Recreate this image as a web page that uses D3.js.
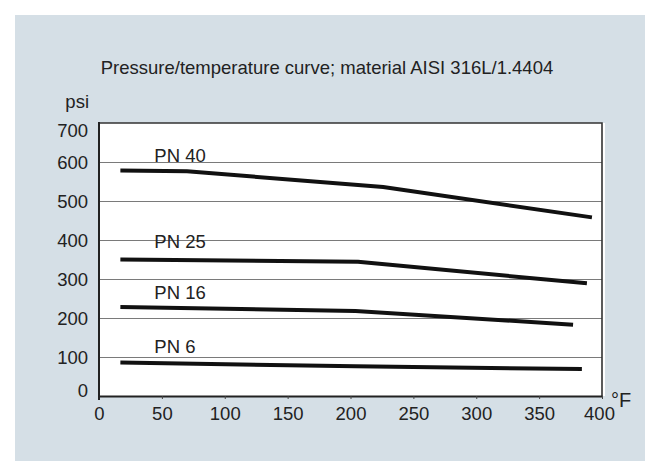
<!DOCTYPE html>
<html lang="en">
<head>
<meta charset="utf-8">
<title>Pressure/temperature curve</title>
<script src="https://cdn.jsdelivr.net/npm/d3@7"></script>
<style>
  body { margin: 0; background: #ffffff; }
  svg { display: block; font-family: "Liberation Sans", Arial, sans-serif; }
  .tick text { font-size: 18.5px; fill: #222; }
</style>
</head>
<body>
<svg id="chart" width="645" height="461"></svg>
<script>
// values (temperature in °F, pressure in psi)
var xTicks = [0, 50, 100, 150, 200, 250, 300, 350, 400];
var yTicks = [0, 100, 200, 300, 400, 500, 600, 700];

var seriesNames = ["PN 40", "PN 25", "PN 16", "PN 6"];
var pn40T = [17, 70, 226, 392];
var pn40P = [578, 576, 536, 458];
var pn25T = [17, 206, 388];
var pn25P = [350, 344, 289];
var pn16T = [17, 204, 377];
var pn16P = [228, 218, 183];
var pn6T = [17, 204, 384];
var pn6P = [86, 76, 69];
// where the "PN .." labels sit (°F, psi of baseline)
var labelT = [44, 44, 44, 44];
var labelP = [601, 379, 249, 110];

var temps = [pn40T, pn25T, pn16T, pn6T];
var press = [pn40P, pn25P, pn16P, pn6P];

var fs = 18.5;
var svg = d3.select("#chart");

// grey-blue panel
svg.append("rect")
  .attr("x", 15).attr("y", 15)
  .attr("width", 630).attr("height", 446)
  .attr("fill", "#d5dfe6");

var x = d3.scaleLinear().domain([0, 400]).range([99, 602]);
var y = d3.scaleLinear().domain([0, 700]).range([396, 123]);

svg.append("rect")
  .attr("x", x(0)).attr("y", y(700))
  .attr("width", x(400) - x(0) + 3).attr("height", y(0) - y(700))
  .attr("fill", "#ffffff");

// grid lines
svg.append("g").selectAll("line")
  .data(yTicks.filter(function(d){ return d > 0 && d < 700; }))
  .enter().append("line")
  .attr("x1", x(0)).attr("x2", x(400))
  .attr("y1", function(d){ return y(d) + 0.5; })
  .attr("y2", function(d){ return y(d) + 0.5; })
  .attr("stroke", "#7a7a7a").attr("stroke-width", 1);

// top and right frame
svg.append("path")
  .attr("d", "M" + x(0) + "," + y(700) + "H" + x(400) + "V" + y(0))
  .attr("fill", "none").attr("stroke", "#333").attr("stroke-width", 1.6);

// x axis
var xAxis = svg.append("g")
  .attr("transform", "translate(0," + y(0) + ")")
  .call(d3.axisBottom(x).tickValues(xTicks).tickSize(3).tickPadding(8).tickSizeOuter(0));
xAxis.select(".domain").attr("stroke", "#222").attr("stroke-width", 2);
xAxis.selectAll(".tick line").attr("stroke", "#444");
xAxis.selectAll(".tick text").filter(function(d){ return d == 400; }).attr("dx", -3);

// y axis
var yAxis = svg.append("g")
  .attr("transform", "translate(" + x(0) + ",0)")
  .call(d3.axisLeft(y).tickValues(yTicks).tickSize(0).tickPadding(11));
yAxis.select(".domain").remove();
yAxis.selectAll(".tick text")
  .attr("dy", function(d){
    if (d == 700) return "0.72em";
    if (d == 0) return "0.05em";
    return "0.34em"; });
svg.append("line")
  .attr("x1", x(0)).attr("x2", x(0))
  .attr("y1", y(700) - 1).attr("y2", y(0) + 4)
  .attr("stroke", "#222").attr("stroke-width", 2);

// curves
var line = d3.line()
  .x(function(d){ return x(d[0]); })
  .y(function(d){ return y(d[1]); });

svg.append("g").selectAll("path")
  .data(temps.map(function(t, i){
    return t.map(function(v, j){ return [v, press[i][j]]; }); }))
  .enter().append("path")
  .attr("d", line)
  .attr("fill", "none")
  .attr("stroke", "#111")
  .attr("stroke-width", 4);

svg.append("g").selectAll("text")
  .data(seriesNames)
  .enter().append("text")
  .attr("x", function(d, i){ return x(labelT[i]); })
  .attr("y", function(d, i){ return y(labelP[i]); })
  .attr("font-size", fs).attr("fill", "#222")
  .text(function(d){ return d; });

// titles and units
svg.append("text")
  .attr("x", 327).attr("y", 74)
  .attr("text-anchor", "middle")
  .attr("font-size", fs).attr("fill", "#222")
  .text("Pressure/temperature curve; material AISI 316L/1.4404");

svg.append("text")
  .attr("x", 89).attr("y", 108)
  .attr("text-anchor", "end")
  .attr("font-size", fs).attr("fill", "#222")
  .text("psi");

svg.append("text")
  .attr("x", 611).attr("y", 407)
  .attr("font-size", 20).attr("fill", "#222")
  .text("°F");
</script>
</body>
</html>
